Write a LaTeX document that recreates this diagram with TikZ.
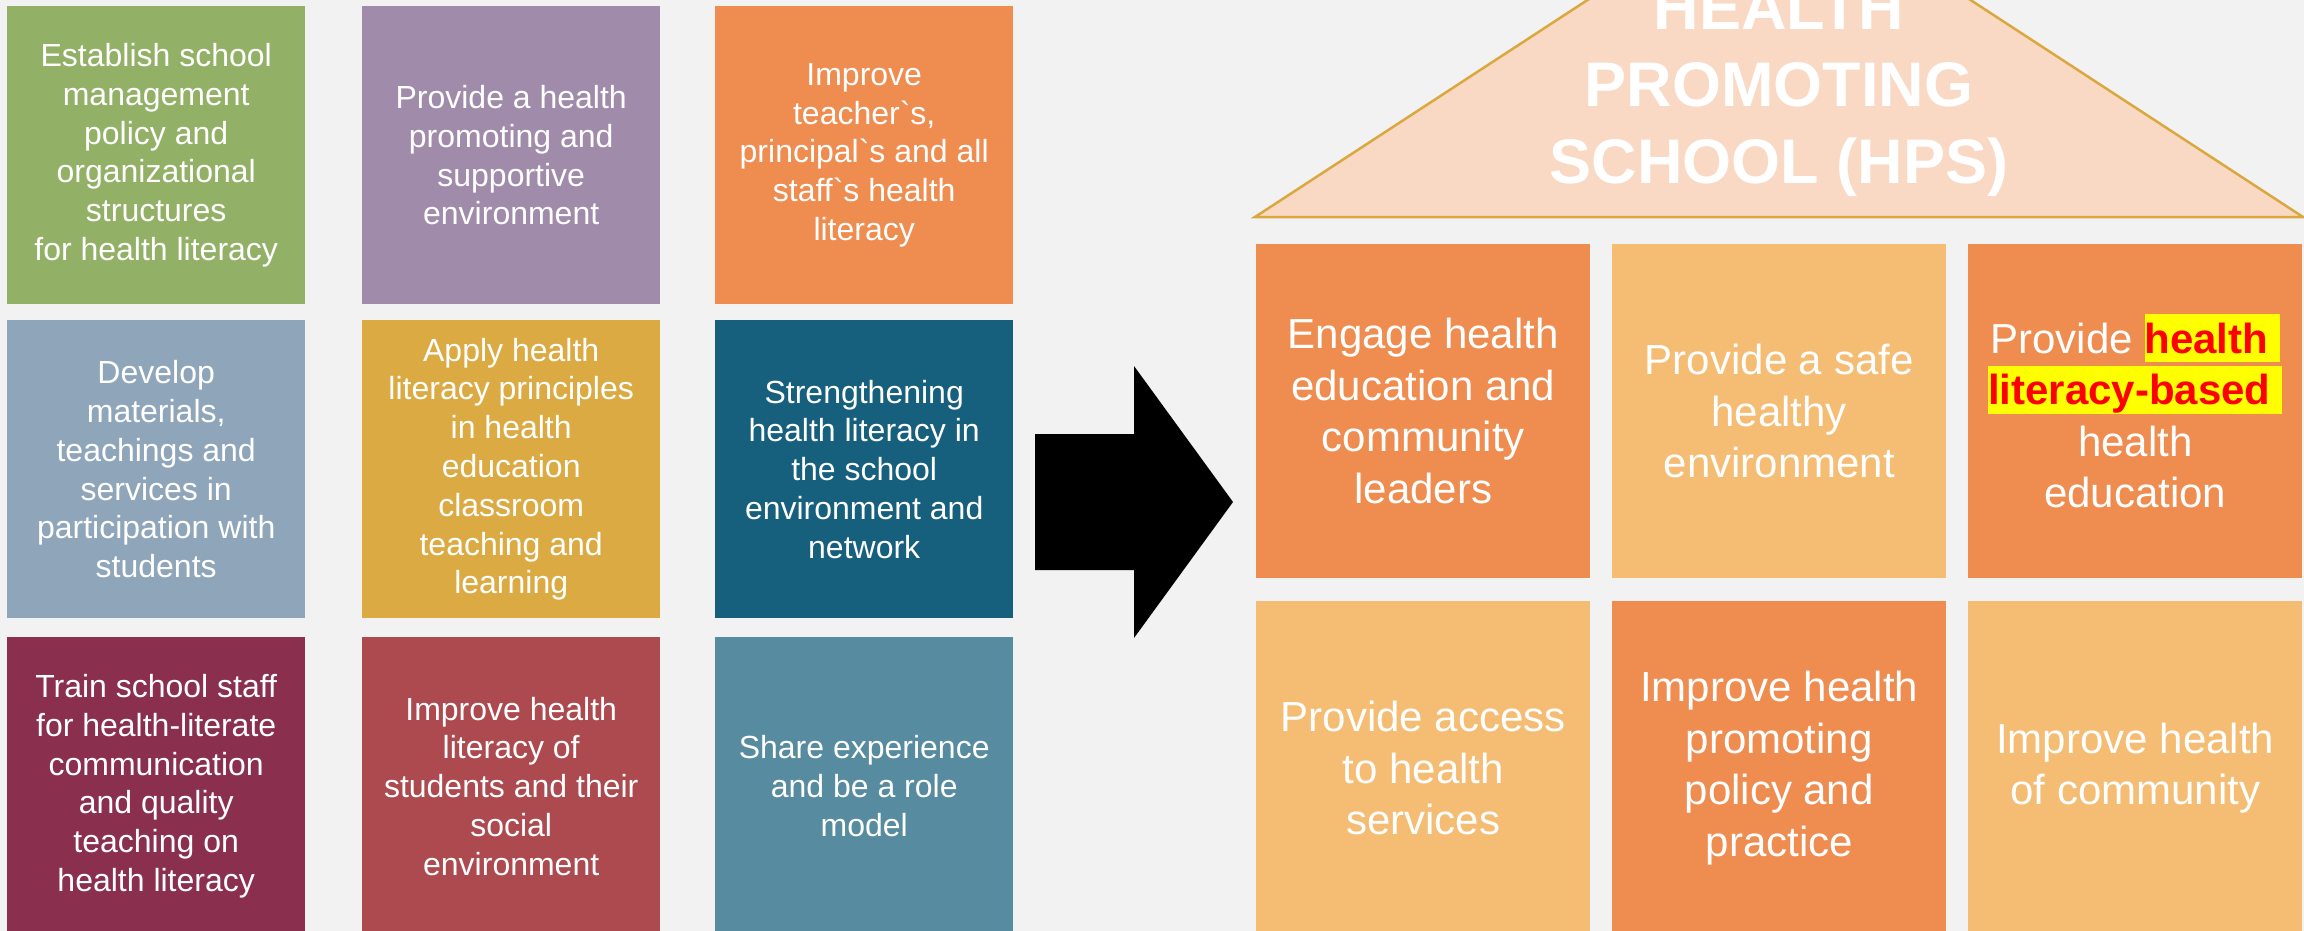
\documentclass[tikz,border=0pt]{standalone}
\usepackage{fontspec}
\setmainfont{Liberation Sans}
\usetikzlibrary{positioning}

\definecolor{bggray}{HTML}{F2F2F2}
\definecolor{hpgreen}{HTML}{93B067}
\definecolor{hppurple}{HTML}{A08CAA}
\definecolor{hporange}{HTML}{EF8C50}
\definecolor{hpslate}{HTML}{8FA5BA}
\definecolor{hpmustard}{HTML}{DCAA42}
\definecolor{hpteal}{HTML}{165F7D}
\definecolor{hpmaroon}{HTML}{8A2F4E}
\definecolor{hpbrick}{HTML}{AD4A50}
\definecolor{hpsteel}{HTML}{578B9F}
\definecolor{hplight}{HTML}{F5BC73}
\definecolor{roofpeach}{HTML}{F9D8C4}
\definecolor{roofline}{HTML}{DBA83F}
\definecolor{hlyellow}{HTML}{FFFF00}
\definecolor{hlred}{HTML}{FF0000}

\newcommand{\hilite}[1]{{\setlength{\fboxsep}{0pt}\colorbox{hlyellow}{\rule[-0.21em]{0pt}{1.14em}\textcolor{hlred}{\bfseries #1}}}}

\begin{document}
\begin{tikzpicture}[x=1pt, y=-1pt,
        leftbox/.style={rectangle, anchor=north west, minimum width=298pt, minimum height=298pt,
            inner sep=0pt, text=white, align=center, font=\fontsize{32}{38.8}\selectfont},
        rightbox/.style={rectangle, anchor=north west, minimum width=334pt, minimum height=334pt,
            inner sep=0pt, text=white, align=center, font=\fontsize{42}{51.5}\selectfont}]
    \path[use as bounding box, fill=bggray] (0, 0) rectangle (2304, 931);
    \clip (0, 0) rectangle (2304, 931);

    \node[leftbox, fill=hpgreen] (policy) at (7, 6) {Establish school\\management\\policy and\\organizational\\structures\\for health literacy};
    \node[leftbox, fill=hppurple] (environment) at (362, 6) {Provide a health\\promoting and\\supportive\\environment};
    \node[leftbox, fill=hporange] (staff) at (715, 6) {Improve\\teacher\textasciigrave s,\\principal\textasciigrave s and all\\staff\textasciigrave s health\\literacy};
    \node[leftbox, fill=hpslate] (materials) at (7, 320) {Develop\\materials,\\teachings and\\services in\\participation with\\students};
    \node[leftbox, fill=hpmustard] (classroom) at (362, 320) {Apply health\\literacy principles\\in health\\education\\classroom\\teaching and\\learning};
    \node[leftbox, fill=hpteal] (network) at (715, 320) {Strengthening\\health literacy in\\the school\\environment and\\network};
    \node[leftbox, fill=hpmaroon] (training) at (7, 637) {Train school staff\\for health-literate\\communication\\and quality\\teaching on\\health literacy};
    \node[leftbox, fill=hpbrick] (students) at (362, 637) {Improve health\\literacy of\\students and their\\social\\environment};
    \node[leftbox, fill=hpsteel] (rolemodel) at (715, 637) {Share experience\\and be a role\\model};

    \fill[black] (1035, 434) -- (1134, 434) -- (1134, 366) -- (1233, 502) -- (1134, 638) -- (1134, 570) -- (1035, 570) -- cycle;

    \draw[roofline, fill=roofpeach, line width=2.5pt] (1255, 217) -- (1779, -125) -- (2303, 217) -- cycle;
    \node[text=white, align=center, inner sep=0pt, font=\fontsize{63}{77}\selectfont\bfseries] (hps) at (1779, 91) {HEALTH\\PROMOTING\\SCHOOL (HPS)};

    \node[rightbox, fill=hporange] (leaders) at (1256, 244) {Engage health\\education and\\community\\leaders};
    \node[rightbox, fill=hplight] (safeenv) at (1612, 244) {Provide a safe\\healthy\\environment};
    \node[rightbox, fill=hporange] (hleducation) at (1968, 244) {Provide \hilite{health\ }\\\hilite{literacy-based\ }\\health\\education};
    \node[rightbox, fill=hplight] (access) at (1256, 601) {Provide access\\to health\\services};
    \node[rightbox, fill=hporange] (practice) at (1612, 601) {Improve health\\promoting\\policy and\\practice};
    \node[rightbox, fill=hplight] (community) at (1968, 601) {Improve health\\of community};
\end{tikzpicture}
\end{document}
